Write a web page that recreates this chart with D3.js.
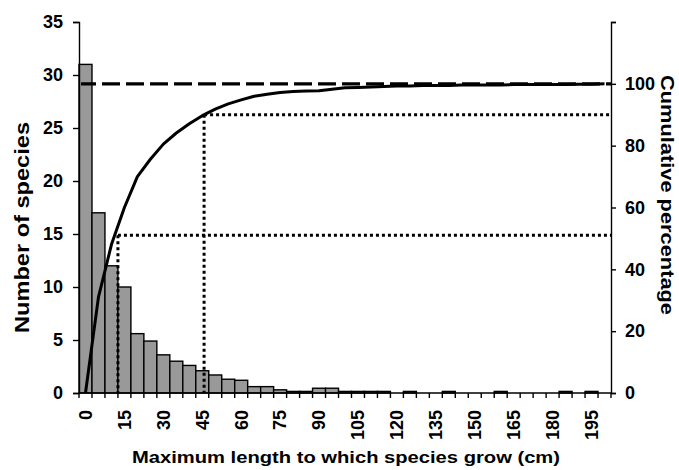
<!DOCTYPE html>
<html>
<head>
<meta charset="utf-8">
<script src="https://cdnjs.cloudflare.com/ajax/libs/d3/7.8.5/d3.min.js"></script>
<style>
  body { margin: 0; background: #fff; }
  svg text { font-family: "Liberation Sans", Arial, sans-serif; font-weight: bold; fill: #000; }
</style>
</head>
<body>
<div id="chart"></div>
<script>
// Chart data
var lengthBins = [0, 5, 10, 15, 20, 25, 30, 35, 40, 45, 50, 55, 60, 65, 70, 75, 80, 85, 90, 95,
  100, 105, 110, 115, 120, 125, 130, 135, 140, 145, 150, 155, 160, 165, 170, 175, 180, 185, 190, 195, 200];

// bar heights (left axis, "Number of species")
var speciesPct = [31, 17, 12, 10, 5.6, 4.9, 3.6, 3.0, 2.6, 2.1, 1.7, 1.3, 1.2, 0.6, 0.6, 0.3, 0.15, 0.15, 0.45, 0.45,
  0.15, 0.15, 0.15, 0.15, 0, 0.15, 0, 0, 0.15, 0, 0, 0, 0.15, 0, 0, 0, 0, 0.15, 0, 0.15, 0];

// cumulative percentage line (right axis)
var cumulativePct = [0, 31, 48, 60, 70, 75.6, 80.5, 84.1, 87.1, 89.7, 91.8, 93.5, 94.8, 96.0, 96.6, 97.2, 97.5, 97.65, 97.8, 98.25,
  98.7, 98.85, 99.0, 99.15, 99.3, 99.3, 99.45, 99.45, 99.45, 99.6, 99.6, 99.6, 99.6, 99.75, 99.75, 99.75, 99.75, 99.75, 99.9, 99.9, 100];

var xTickLabels = ["0", "15", "30", "45", "60", "75", "90", "105", "120", "135", "150", "165", "180", "195"];
var leftTicks = [0, 5, 10, 15, 20, 25, 30, 35];
var rightTicks = [0, 20, 40, 60, 80, 100, 120];
var rightTickLabels = ["0", "20", "40", "60", "80", "100", ""];

// reference lines: 100% dashed, 50% and 90% dotted guides (length in cm, percentage)
var totalPct = 100;
var guideLines = [
  { cm: 12.5, pct: 51 },
  { cm: 45.7, pct: 90 }
];

// Chart Params
var svgWidth = 679;
var svgHeight = 470;
var margin = { top: 22, right: 68, bottom: 77, left: 79 };
var width = svgWidth - margin.left - margin.right;
var height = svgHeight - margin.top - margin.bottom;

var svg = d3.select("#chart")
  .append("svg")
  .attr("width", svgWidth)
  .attr("height", svgHeight);

var chartGroup = svg.append("g")
  .attr("transform", `translate(${margin.left}, ${margin.top})`);

// scales
var xBand = d3.scaleBand()
  .domain(lengthBins)
  .range([0, width])
  .padding(0);

var bw = xBand.bandwidth();

// continuous cm scale lined up with the band centres
var xCm = d3.scaleLinear()
  .domain([0, 5])
  .range([xBand(0) + bw / 2, xBand(5) + bw / 2]);

var yLeft = d3.scaleLinear().domain([0, 35]).range([height, 0]);
var yRight = d3.scaleLinear().domain([0, 120]).range([height, 0]);

// bars
chartGroup.selectAll("rect.bar")
  .data(lengthBins.filter((d, i) => speciesPct[i] > 0))
  .enter()
  .append("rect")
  .attr("class", "bar")
  .attr("x", d => xBand(d))
  .attr("y", d => yLeft(speciesPct[lengthBins.indexOf(d)]))
  .attr("width", bw)
  .attr("height", d => height - yLeft(speciesPct[lengthBins.indexOf(d)]))
  .attr("fill", "#999999")
  .attr("stroke", "#000")
  .attr("stroke-width", 1.4);

// dashed 100% line
chartGroup.append("line")
  .attr("x1", xBand(0) + 2)
  .attr("x2", width)
  .attr("y1", yRight(totalPct))
  .attr("y2", yRight(totalPct))
  .attr("stroke", "#000")
  .attr("stroke-width", 3.2)
  .attr("stroke-dasharray", "18,6")
  .attr("stroke-dashoffset", 3);

// dotted guides
guideLines.forEach(function(g) {
  chartGroup.append("line")
    .attr("x1", xCm(g.cm)).attr("x2", xCm(g.cm))
    .attr("y1", yRight(g.pct)).attr("y2", height)
    .attr("stroke", "#000")
    .attr("stroke-width", 3)
    .attr("stroke-dasharray", "3,3");
  chartGroup.append("line")
    .attr("x1", xCm(g.cm)).attr("x2", width)
    .attr("y1", yRight(g.pct)).attr("y2", yRight(g.pct))
    .attr("stroke", "#000")
    .attr("stroke-width", 3)
    .attr("stroke-dasharray", "3,3");
});

// cumulative line
var cumLine = d3.line()
  .x((d, i) => xBand(lengthBins[i]) + bw / 2)
  .y(d => yRight(d));

chartGroup.append("path")
  .datum(cumulativePct)
  .attr("d", cumLine)
  .attr("fill", "none")
  .attr("stroke", "#000")
  .attr("stroke-width", 3)
  .attr("stroke-linejoin", "round");

// left axis
var leftAxis = d3.axisLeft(yLeft)
  .tickValues(leftTicks)
  .tickSizeOuter(0)
  .tickSize(6)
  .tickPadding(10);

var yAxisLeft = chartGroup.append("g").call(leftAxis);

// right axis
var rightAxis = d3.axisRight(yRight)
  .tickValues(rightTicks)
  .tickFormat((d, i) => rightTickLabels[i])
  .tickSizeOuter(0)
  .tickSize(5)
  .tickPadding(9);

var yAxisRight = chartGroup.append("g")
  .attr("transform", `translate(${width}, 0)`)
  .call(rightAxis);

[yAxisLeft, yAxisRight].forEach(function(ax) {
  ax.select(".domain").attr("stroke", "#000").attr("stroke-width", 1.4);
  ax.selectAll(".tick line").attr("stroke", "#000").attr("stroke-width", 1.4);
  ax.selectAll(".tick text")
    .style("font-size", "18px")
    .style("font-family", "'Liberation Sans', Arial, sans-serif")
    .style("font-weight", "bold")
    .attr("fill", "#000");
});

// x axis: line, ticks between categories, rotated labels
var xAxisGroup = chartGroup.append("g")
  .attr("transform", `translate(0, ${height})`);

xAxisGroup.append("line")
  .attr("x1", 0).attr("x2", width)
  .attr("stroke", "#000")
  .attr("stroke-width", 1.4);

var tickPos = lengthBins.map(d => xBand(d)).concat([width]);
xAxisGroup.selectAll("line.xtick")
  .data(tickPos)
  .enter()
  .append("line")
  .attr("class", "xtick")
  .attr("x1", d => d).attr("x2", d => d)
  .attr("y1", 0).attr("y2", 5)
  .attr("stroke", "#000")
  .attr("stroke-width", 1.4);

xAxisGroup.selectAll("text.xlabel")
  .data(xTickLabels)
  .enter()
  .append("text")
  .attr("class", "xlabel")
  .attr("transform", d => `translate(${xBand(+d) + bw / 2}, 17) rotate(-90)`)
  .attr("text-anchor", "end")
  .attr("dy", "0.35em")
  .style("font-size", "18px")
  .text(d => d);

// axis titles
svg.append("text")
  .attr("x", 346)
  .attr("y", 463)
  .attr("text-anchor", "middle")
  .style("font-size", "17px")
  .attr("textLength", 428)
  .attr("lengthAdjust", "spacingAndGlyphs")
  .text("Maximum length to which species grow (cm)");

svg.append("text")
  .attr("transform", "translate(28.5, 227.5) rotate(-90)")
  .attr("text-anchor", "middle")
  .style("font-size", "20px")
  .attr("textLength", 211)
  .attr("lengthAdjust", "spacingAndGlyphs")
  .text("Number of species");

svg.append("text")
  .attr("transform", "translate(661, 195) rotate(90)")
  .attr("text-anchor", "middle")
  .style("font-size", "19px")
  .attr("textLength", 240)
  .attr("lengthAdjust", "spacingAndGlyphs")
  .text("Cumulative percentage");
</script>
</body>
</html>
